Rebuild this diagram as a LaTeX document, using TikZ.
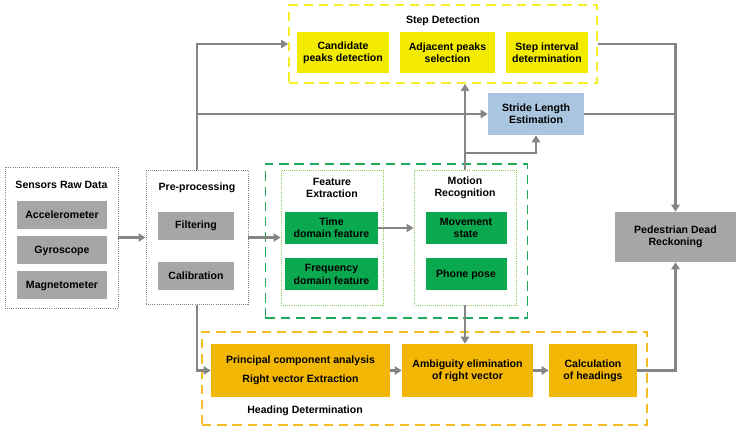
\documentclass[tikz,border=0pt]{standalone}
\usepackage{fontspec}
\setmainfont{Liberation Sans}
\usetikzlibrary{shapes,arrows,arrows.meta}
\definecolor{boxgray}{HTML}{A6A6A6}
\definecolor{linegray}{HTML}{858585}
\definecolor{featgreen}{HTML}{0AA84F}
\definecolor{stepyellow}{HTML}{F4EC00}
\definecolor{headorange}{HTML}{F2B705}
\definecolor{strideblue}{HTML}{A9C5DF}
\definecolor{dashgreen}{HTML}{1FAA5A}
\definecolor{dotgreen}{HTML}{8CCB4A}
\definecolor{dashyellow}{HTML}{F7EE2A}
\definecolor{dashorange}{HTML}{F2BE22}
\begin{document}
\begin{tikzpicture}[x=0.03cm, y=-0.03cm, font=\bfseries\fontsize{9}{10.5}\selectfont]
  \tikzstyle{block} = [rectangle, draw=none, text centered, inner sep=1pt, align=center]
  \tikzstyle{graybox} = [block, fill=boxgray, minimum height=0.84cm]
  \tikzstyle{greenbox} = [block, fill=featgreen, minimum height=0.96cm]
  \tikzstyle{yellowbox} = [block, fill=stepyellow, minimum height=1.23cm]
  \tikzstyle{orangebox} = [block, fill=headorange, minimum height=1.59cm]
  \tikzstyle{group} = [rectangle, draw=linegray, densely dotted, line width=0.8pt]
  \tikzstyle{subgroup} = [rectangle, draw=dotgreen, densely dotted, line width=0.8pt]
  \tikzstyle{big} = [rectangle, dash pattern=on 8pt off 5pt, line width=1.6pt]
  \tikzstyle{title} = [text centered, align=center, inner sep=0pt]
  \tikzstyle{line} = [draw=linegray, line width=1.9pt, -{Triangle[length=6pt,width=7pt]}]
  \tikzstyle{plain} = [draw=linegray, line width=1.9pt]

  \useasboundingbox (0,0) rectangle (743,431);

  % Place nodes
  \node [group, minimum width=3.39cm, minimum height=4.23cm] (sensors) at (61.5,237.5) {};
  \node [title] at (61.5,185) {Sensors Raw Data};
  \node [graybox, minimum width=2.7cm] (accel) at (62,215) {Accelerometer};
  \node [graybox, minimum width=2.7cm] (gyro) at (62,250.5) {Gyroscope};
  \node [graybox, minimum width=2.7cm] (magn) at (62,285.5) {Magnetometer};

  \node [group, minimum width=3.06cm, minimum height=4.02cm] (pre) at (197,237.5) {};
  \node [title] at (197,188) {Pre-processing};
  \node [graybox, minimum width=2.28cm] (filt) at (196,226) {Filtering};
  \node [graybox, minimum width=2.28cm] (calib) at (196,276) {Calibration};

  \node [big, draw=dashgreen, minimum width=7.86cm, minimum height=4.62cm] (recog) at (396.5,241) {};
  \node [subgroup, minimum width=3.06cm, minimum height=4.05cm] (feat) at (332,237.5) {};
  \node [title] at (332,188) {Feature\\Extraction};
  \node [greenbox, minimum width=2.79cm] (time) at (331.5,228) {Time\\domain feature};
  \node [greenbox, minimum width=2.79cm] (freq) at (331.5,274.5) {Frequency\\domain feature};
  \node [subgroup, minimum width=3.06cm, minimum height=4.05cm] (motion) at (465,237.5) {};
  \node [title] at (465,188) {Motion\\Recognition};
  \node [greenbox, minimum width=2.43cm] (move) at (466,228) {Movement\\state};
  \node [greenbox, minimum width=2.43cm] (pose) at (466,274.5) {Phone pose};

  \node [big, draw=dashyellow, minimum width=9.24cm, minimum height=2.34cm] (step) at (443,44) {};
  \node [title] at (443,21) {Step Detection};
  \node [yellowbox, minimum width=2.76cm] (cand) at (343,52.5) {Candidate\\peaks detection};
  \node [yellowbox, minimum width=2.85cm] (adj) at (447.5,52.5) {Adjacent peaks\\selection};
  \node [yellowbox, minimum width=2.46cm] (intv) at (547,52.5) {Step interval\\determination};

  \node [block, fill=strideblue, minimum width=2.88cm, minimum height=1.26cm] (stride) at (536,114) {Stride Length\\Estimation};
  \node [block, fill=boxgray, minimum width=3.63cm, minimum height=1.5cm] (pdr) at (675.5,237) {Pedestrian Dead\\Reckoning};

  \node [big, draw=dashorange, minimum width=13.35cm, minimum height=2.79cm] (heading) at (424.5,378.5) {};
  \node [title] at (305,411) {Heading Determination};
  \node [orangebox, minimum width=5.37cm] (pca) at (300.5,370.5) {Principal component analysis\\[6pt]Right vector Extraction};
  \node [orangebox, minimum width=3.93cm] (amb) at (467.5,370.5) {Ambiguity elimination\\of right vector};
  \node [orangebox, minimum width=2.64cm] (calc) at (593,370.5) {Calculation\\of headings};

  \coordinate (mrsplit) at (465,153);

  % Draw edges
  \path [line] (sensors.east) -- (pre.west);
  \path [line] (pre.east) -- (feat.west);
  \path [line] (time.east) -- (motion.west |- time.east);
  \path [line] (pre.north) |- (step.west);
  \path [line] (pre.north |- stride.west) -- (stride.west);
  \path [line] (motion.north) -- (motion.north |- step.south);
  \path [line] (mrsplit) -| (stride.south);
  \path [line] (motion.south) -- (motion.south |- amb.north);
  \path [line] (pre.south) |- (pca.west);
  \path [line] (pca) -- (amb);
  \path [line] (amb) -- (calc);
  \path [line] (step.east) -| (pdr.north);
  \path [plain] (stride.east) -- (stride.east -| pdr.north);
  \path [line] (calc.east) -| (pdr.south);
\end{tikzpicture}
\end{document}
